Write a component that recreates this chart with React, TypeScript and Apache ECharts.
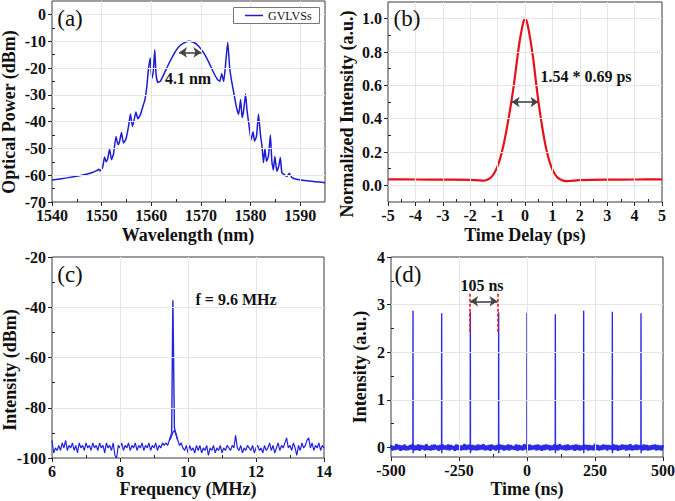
import React, { useEffect, useRef } from "react";
import * as echarts from "echarts";

const FONT = "'Liberation Serif', 'Times New Roman', serif";
const INK = "#111111";

// ---------- (a) optical spectrum ----------
const spectrumA: [number, number][] = [
  [1540, -61.8], [1543, -61.0], [1546, -60.0], [1548, -59.1], [1549, -58.3], [1549.4, -57.8], [1549.7, -58.4],
  [1550.2, -57.0], [1550.6, -53.2], [1550.9, -55], [1551.2, -54], [1551.6, -50.3], [1552, -54.2], [1552.4, -52],
  [1552.9, -45.6], [1553.3, -48.6], [1553.6, -47.5], [1554, -44.1], [1554.4, -48], [1554.9, -46.5], [1555.4, -42],
  [1555.8, -37.2], [1556.2, -41.8], [1556.5, -39.8], [1556.9, -36.4], [1557.3, -38.9], [1557.8, -37.5], [1558.3, -34.4],
  [1558.7, -32], [1559.1, -27], [1559.4, -21], [1559.8, -16.3], [1560.1, -24], [1560.4, -21.5], [1560.7, -13.2],
  [1560.95, -22], [1561.3, -25.4], [1561.8, -25], [1562.5, -22.5], [1563.5, -18.5], [1564.5, -15], [1565.5, -12.2],
  [1566.5, -10.7], [1567.5, -10.0], [1568.5, -10.4], [1569.5, -11.8], [1570.5, -14.2], [1571.5, -17.5], [1572.5, -21.5],
  [1573.3, -24.2], [1573.8, -25], [1574.2, -22.1], [1574.6, -25], [1575.0, -18], [1575.4, -10.4], [1575.8, -20],
  [1576.2, -25], [1576.7, -30], [1577.2, -35], [1577.6, -37.3], [1578, -31.8], [1578.3, -38.5], [1578.6, -36],
  [1579, -29.7], [1579.3, -36], [1579.7, -41.5], [1580.1, -46.8], [1580.5, -43.8], [1580.8, -47.3], [1581.2, -45.5],
  [1581.6, -37.2], [1582, -45], [1582.3, -49], [1582.6, -55.3], [1582.9, -50], [1583.2, -54.8], [1583.6, -53],
  [1584, -45], [1584.3, -55], [1584.6, -58], [1584.9, -53], [1585.3, -58.5], [1585.7, -56.5], [1586, -53.4],
  [1586.3, -59], [1586.8, -59.8], [1587.3, -60.5], [1587.8, -59.3], [1588.3, -60.8], [1589, -61.4], [1591.8, -62.2],
  [1595, -62.8],
];
const aArrow: [number, number][] = [[1565.6, -14.2], [1570.1, -14.2]];
const aXMajor = [1540, 1550, 1560, 1570, 1580, 1590];
const aXMinor = [1545, 1555, 1565, 1575, 1585];
const aYMajor = [-70, -60, -50, -40, -30, -20, -10, 0];
const aYMinor = [-65, -55, -45, -35, -25, -15, -5];

// ---------- (b) autocorrelation ----------
const autocorrB: [number, number][] = [
  [-5, 0.036], [-4, 0.035], [-3, 0.034], [-2, 0.033], [-1.7, 0.03], [-1.5, 0.028], [-1.4, 0.032], [-1.3, 0.04],
  [-1.2, 0.055], [-1.1, 0.08], [-1.0, 0.115], [-0.9, 0.165], [-0.8, 0.23], [-0.7, 0.31], [-0.6, 0.4], [-0.5, 0.5],
  [-0.4, 0.61], [-0.3, 0.74], [-0.2, 0.86], [-0.1, 0.95], [-0.05, 0.985], [0, 1.0], [0.05, 0.99], [0.1, 0.96],
  [0.2, 0.87], [0.3, 0.76], [0.4, 0.62], [0.5, 0.49], [0.6, 0.38], [0.7, 0.28], [0.8, 0.2], [0.9, 0.14],
  [1.0, 0.095], [1.1, 0.065], [1.2, 0.045], [1.3, 0.035], [1.4, 0.028], [1.5, 0.025], [1.6, 0.026], [1.8, 0.028],
  [2, 0.031], [3, 0.034], [4, 0.035], [5, 0.036],
];
const bArrow: [number, number][] = [[-0.49, 0.5], [0.49, 0.5]];
const bXMajor = [-5, -4, -3, -2, -1, 0, 1, 2, 3, 4, 5];
const bXMinor = [-4.5, -3.5, -2.5, -1.5, -0.5, 0.5, 1.5, 2.5, 3.5, 4.5];
const bYMajor = [0, 0.2, 0.4, 0.6, 0.8, 1.0];
const bYMinor = [0.1, 0.3, 0.5, 0.7, 0.9];

// ---------- (c) RF spectrum ----------
const cStart = 6;
const cStep = 0.05;
const rfNoiseC = [
  -93, -98, -96, -97, -95, -97, -94, -96, -93, -97, -95, -96, -94, -97, -95, -98, -94, -96, -95, -97,
  -94, -96, -95, -97, -94, -96, -95, -97, -94, -96, -95, -98, -94, -96, -95, -97, -94, -99, -100, -95,
  -96, -94, -97, -95, -96, -94, -97, -95, -96, -94, -97, -95, -96, -94, -97, -95, -96, -94, -97, -95,
  -96, -94, -97, -95, -96, -94, -95, -94, -95, -93, -92, -90, -89, -91, -93, -95, -94, -96, -97, -95,
  -98, -95, -97, -96, -98, -95, -97, -95, -98, -96, -97, -95, -99, -96, -97, -95, -98, -96, -97, -95,
  -98, -96, -97, -95, -96, -97, -95, -96, -91, -96, -97, -95, -98, -96, -97, -95, -96, -97, -95, -98,
  -96, -95, -97, -96, -98, -95, -97, -96, -94, -97, -95, -98, -96, -94, -97, -95, -96, -94, -92, -96,
  -95, -97, -94, -96, -99, -95, -97, -94, -96, -95, -93, -92, -96, -94, -97, -95, -96, -94, -97, -95,
  -96,
];
const rfPeakC: [number, number][] = [[9.45, -93], [9.52, -90], [9.555, -37.2], [9.6, -88], [9.7, -93]];
const cXMajor = [6, 8, 10, 12, 14];
const cXMinor = [7, 9, 11, 13];
const cYMajor = [-100, -80, -60, -40, -20];
const cYMinor = [-90, -70, -50, -30];

// ---------- (d) pulse train ----------
const dStart = -500;
const dStep = 5;
const noiseD = [
  0.05, -0.06, 0.03, -0.05, 0.07, -0.04, 0.05, -0.07, 0.04, -0.05, 0.06, -0.06, 0.03, -0.05, 0.05, -0.04, 0.07, -0.06, 0.04, -0.05,
  0.06, -0.07, 0.05, -0.04, 0.04, -0.06, 0.07, -0.05, 0.03, -0.06, 0.05, -0.05, 0.06, -0.04, 0.04, -0.07, 0.05, -0.05, 0.06, -0.04,
  0.04, -0.05, 0.06, -0.06, 0.05, -0.04, 0.03, -0.07, 0.06, -0.05, 0.05, -0.06, 0.04, -0.05, 0.07, -0.05, 0.05, -0.04, 0.06, -0.06,
  0.05, -0.05, 0.04, -0.06, 0.06, -0.05, 0.05, -0.04, 0.07, -0.06, 0.04, -0.05, 0.05, -0.07, 0.06, -0.04, 0.04, -0.06, 0.05, -0.05,
  0.06, -0.04, 0.05, -0.06, 0.04, -0.05, 0.06, -0.06, 0.05, -0.04, 0.03, -0.05, 0.06, -0.07, 0.05, -0.05, 0.04, -0.06, 0.07, -0.04,
  0.05, -0.06, 0.06, -0.05, 0.04, -0.04, 0.05, -0.06, 0.06, -0.05, 0.04, -0.07, 0.05, -0.05, 0.06, -0.04, 0.05, -0.06, 0.04, -0.05,
  0.06, -0.05, 0.05, -0.06, 0.07, -0.04, 0.04, -0.05, 0.05, -0.06, 0.06, -0.05, 0.04, -0.04, 0.05, -0.07, 0.06, -0.05, 0.05, -0.06,
  0.04, -0.05, 0.06, -0.04, 0.05, -0.06, 0.05, -0.05, 0.04, -0.06, 0.08, -0.05, 0.05, -0.06, 0.04, -0.05, 0.06, -0.04, 0.05, -0.06,
  0.05, -0.04, 0.04, -0.06, 0.06, -0.05, 0.05, -0.07, 0.04, -0.05, 0.06, -0.04, 0.05, -0.06, 0.05, -0.05, 0.07, -0.06, 0.04, -0.05,
  0.06, -0.05, 0.05, -0.04, 0.04, -0.06, 0.06, -0.05, 0.05, -0.06, 0.04, -0.05, 0.05, -0.04, 0.06, -0.06, 0.05, -0.05, 0.04, -0.06,
  0.05,
];
const pulseTimesD = [-419.1, -313.7, -208.3, -104.2, 0, 104.2, 208.3, 313.7, 419.1];
const pulseHeightsD = [2.87, 2.82, 2.85, 2.84, 2.83, 2.8, 2.87, 2.85, 2.82];
const dMarkerXs = [-210.8, -106.6];
const dMarkerY: [number, number] = [2.43, 3.24];
const dArrow: [number, number][] = [[-209, 3.07], [-108.5, 3.07]];
const dXMajor = [-500, -250, 0, 250, 500];
const dXMinor = [-375, -125, 125, 375];
const dYMajor = [0, 1, 2, 3, 4];
const dYMinor = [0.5, 1.5, 2.5, 3.5];

const BLUE_A = "#1c1cd2";
const RED_B = "#e8101a";
const BLUE_C = "#2424e0";
const BLUE_D = "#2b2be6";
const GRIDLINE = "#e6e6e6";

type Panel = {
  grid: { left: number; top: number; width: number; height: number };
  x: [number, number];
  y: [number, number];
  xMaj: number[];
  xMin: number[];
  yMaj: number[];
  yMin: number[];
  xFmt: (v: number) => string;
  yFmt: (v: number) => string;
  gx: number[];
  gy: number[];
};

const panels: Panel[] = [
  {
    grid: { left: 52, top: 1, width: 273, height: 201 },
    x: [1540, 1595], y: [-70, 5],
    xMaj: aXMajor, xMin: aXMinor, yMaj: aYMajor, yMin: aYMinor,
    xFmt: (v) => String(v), yFmt: (v) => String(v),
    gx: [1550, 1560, 1570, 1580, 1590], gy: [-60, -50, -40, -30, -20, -10, 0],
  },
  {
    grid: { left: 388, top: 2, width: 274, height: 200 },
    x: [-5, 5], y: [-0.1, 1.1],
    xMaj: bXMajor, xMin: bXMinor, yMaj: bYMajor, yMin: bYMinor,
    xFmt: (v) => String(Math.round(v)), yFmt: (v) => v.toFixed(1),
    gx: [-4, -3, -2, -1, 0, 1, 2, 3, 4], gy: [0, 0.2, 0.4, 0.6, 0.8, 1.0],
  },
  {
    grid: { left: 52, top: 257, width: 272, height: 201 },
    x: [6, 14], y: [-100, -20],
    xMaj: cXMajor, xMin: cXMinor, yMaj: cYMajor, yMin: cYMinor,
    xFmt: (v) => String(Math.round(v)), yFmt: (v) => String(Math.round(v)),
    gx: [8, 10, 12], gy: [-80, -60, -40],
  },
  {
    grid: { left: 391, top: 257, width: 272, height: 200 },
    x: [-500, 500], y: [-0.2, 4],
    xMaj: dXMajor, xMin: dXMinor, yMaj: dYMajor, yMin: dYMinor,
    xFmt: (v) => String(Math.round(v)), yFmt: (v) => String(Math.round(v)),
    gx: [-250, 0, 250], gy: [1, 2, 3],
  },
];

const tickText = {
  color: INK,
  fontFamily: FONT,
  fontWeight: "bold",
  fontSize: 16,
  lineHeight: 13,
};

function buildAxes(p: Panel, gi: number, dim: "x" | "y") {
  const isX = dim === "x";
  const range = isX ? p.x : p.y;
  const maj = isX ? p.xMaj : p.yMaj;
  const min = isX ? p.xMin : p.yMin;
  const fmt = isX ? p.xFmt : p.yFmt;
  const position = isX ? "bottom" : "left";
  const base = {
    type: "value",
    gridIndex: gi,
    min: range[0],
    max: range[1],
    position,
    axisLine: { show: false, onZero: false },
    splitLine: { show: false },
    minorTick: { show: false },
    minorSplitLine: { show: false },
  };
  return [
    {
      ...base,
      axisTick: { show: true, inside: false, length: 4, customValues: maj, lineStyle: { color: "#222", width: 1 } },
      axisLabel: {
        show: true,
        customValues: maj,
        margin: isX ? 7 : 6,
        ...tickText,
        rich: { t: tickText },
        formatter: (v: number) => `{t|${fmt(v)}}`,
      },
    },
    {
      ...base,
      axisTick: { show: true, inside: true, length: 3, customValues: min, lineStyle: { color: "#222", width: 1 } },
      axisLabel: { show: false },
    },
  ];
}

function App() {
  const ref = useRef<HTMLDivElement>(null);

  useEffect(() => {
    if (!ref.current) return;
    const chart = echarts.init(ref.current, undefined, { renderer: "svg" });

    const grids = panels.map((p) => ({
      ...p.grid,
      show: true,
      borderColor: "#3a3a3a",
      borderWidth: 1,
      backgroundColor: "transparent",
      containLabel: false,
      outerBoundsMode: "none",
    }));
    const xAxes: any[] = [];
    const yAxes: any[] = [];
    panels.forEach((p, i) => {
      xAxes.push(...buildAxes(p, i, "x"));
      yAxes.push(...buildAxes(p, i, "y"));
    });

    const gridSeries = panels.map((p, i) => ({
      type: "line",
      xAxisIndex: 2 * i,
      yAxisIndex: 2 * i,
      data: [[p.x[0], p.y[0]]],
      symbol: "none",
      lineStyle: { opacity: 0 },
      silent: true,
      z: 1,
      markLine: {
        silent: true,
        symbol: "none",
        label: { show: false },
        lineStyle: { color: GRIDLINE, width: 1, type: "solid" },
        data: [...p.gx.map((v) => ({ xAxis: v })), ...p.gy.map((v) => ({ yAxis: v }))],
      },
    }));

    const arrowLine = (pts: [number, number][]) => ({
      silent: true,
      symbol: ["arrow", "arrow"],
      symbolSize: [8, 8],
      label: { show: false },
      lineStyle: { color: "#444", width: 1.6, type: "solid" },
      data: [[{ coord: pts[0] }, { coord: pts[1] }]],
    });

    const cData: [number, number][] = rfNoiseC.map((v, i) => [cStart + i * cStep, v]);
    const dNoise: [number, number][] = noiseD.map((v, i) => [dStart + i * dStep, v]);
    const pulseSeries = pulseTimesD.map((t, k) => ({
      type: "line",
      xAxisIndex: 6,
      yAxisIndex: 6,
      data: [[t - 0.4, 0.02], [t, pulseHeightsD[k]], [t + 0.4, -0.12], [t + 1.2, 0]],
      symbol: "none",
      lineStyle: { color: BLUE_D, width: 1.4 },
      z: 4,
    }));

    const series: any[] = [
      ...gridSeries,
      {
        name: "GVLVSs",
        type: "line",
        xAxisIndex: 0,
        yAxisIndex: 0,
        data: spectrumA,
        symbol: "none",
        smooth: 0.15,
        lineStyle: { color: BLUE_A, width: 1.5 },
        z: 3,
        markLine: arrowLine(aArrow),
      },
      {
        type: "line",
        xAxisIndex: 2,
        yAxisIndex: 2,
        data: autocorrB,
        symbol: "none",
        smooth: 0.3,
        lineStyle: { color: RED_B, width: 2.2 },
        z: 3,
        markLine: arrowLine(bArrow),
      },
      {
        type: "line",
        xAxisIndex: 4,
        yAxisIndex: 4,
        data: cData,
        symbol: "none",
        lineStyle: { color: BLUE_C, width: 1.2 },
        z: 3,
      },
      {
        type: "line",
        xAxisIndex: 4,
        yAxisIndex: 4,
        data: rfPeakC,
        symbol: "none",
        lineStyle: { color: BLUE_C, width: 1.4 },
        z: 3,
      },
      {
        type: "line",
        xAxisIndex: 6,
        yAxisIndex: 6,
        data: dNoise,
        symbol: "none",
        lineStyle: { color: BLUE_D, width: 2.4 },
        z: 3,
      },
      ...pulseSeries,
      {
        type: "line",
        xAxisIndex: 6,
        yAxisIndex: 6,
        data: [[dMarkerXs[0], dMarkerY[0]]],
        symbol: "none",
        lineStyle: { opacity: 0 },
        z: 5,
        markLine: {
          silent: true,
          symbol: "none",
          label: { show: false },
          lineStyle: { color: "#ee1111", width: 1.6, type: [3, 2] },
          data: dMarkerXs.map((x) => [{ coord: [x, dMarkerY[0]] }, { coord: [x, dMarkerY[1]] }]),
        },
      },
      {
        type: "line",
        xAxisIndex: 6,
        yAxisIndex: 6,
        data: [[dArrow[0][0], dArrow[0][1]]],
        symbol: "none",
        lineStyle: { opacity: 0 },
        z: 5,
        markLine: arrowLine(dArrow),
      },
    ];

    const txt = (text: string, x: number, y: number, size: number, bold = true, rotate = false, align = "center") => ({
      type: "text",
      x,
      y,
      rotation: rotate ? Math.PI / 2 : 0,
      z: 20,
      style: {
        text,
        fill: INK,
        font: `${bold ? "bold " : ""}${size}px ${FONT}`,
        align,
        verticalAlign: "middle",
      },
    });

    const graphic: any[] = [
      // axis titles
      txt("Optical Power (dBm)", 9, 112, 18, true, true),
      txt("Wavelength (nm)", 188, 235, 18),
      txt("Normalized Intensity (a.u.)", 347, 114, 18, true, true),
      txt("Time Delay (ps)", 525, 235, 18),
      txt("Intensity (dBm)", 10, 370, 18, true, true),
      txt("Frequency (MHz)", 188, 489, 18),
      txt("Intensity (a.u.)", 360, 367, 18, true, true),
      txt("Time (ns)", 527, 489, 18),
      // panel tags
      txt("(a)", 70, 18, 23, false),
      txt("(b)", 407, 18, 23, false),
      txt("(c)", 70, 274, 23, false),
      txt("(d)", 408, 274, 23, false),
      // annotations
      txt("4.1 nm", 188, 78, 16),
      txt("1.54 * 0.69 ps", 586, 76, 16),
      txt("f = 9.6 MHz", 236, 299, 16),
      txt("105 ns", 482, 285, 16),
      // legend
      {
        type: "rect",
        z: 20,
        shape: { x: 233.5, y: 7.5, width: 86, height: 16 },
        style: { fill: "#ffffff", stroke: "#777777", lineWidth: 1 },
      },
      {
        type: "line",
        z: 21,
        shape: { x1: 245, y1: 15.5, x2: 263, y2: 15.5 },
        style: { stroke: BLUE_A, lineWidth: 1.5 },
      },
      txt("GVLVSs", 268, 16, 12, false, false, "left"),
    ];

    chart.setOption({
      animation: false,
      backgroundColor: "#ffffff",
      textStyle: { fontFamily: FONT },
      grid: grids,
      xAxis: xAxes,
      yAxis: yAxes,
      series,
      graphic,
    });

    return () => chart.dispose();
  }, []);

  return (
    <div
      ref={ref}
      style={{ position: "fixed", left: 0, top: 0, width: 675, height: 501, background: "#fff" }}
    />
  );
}

export default App;
